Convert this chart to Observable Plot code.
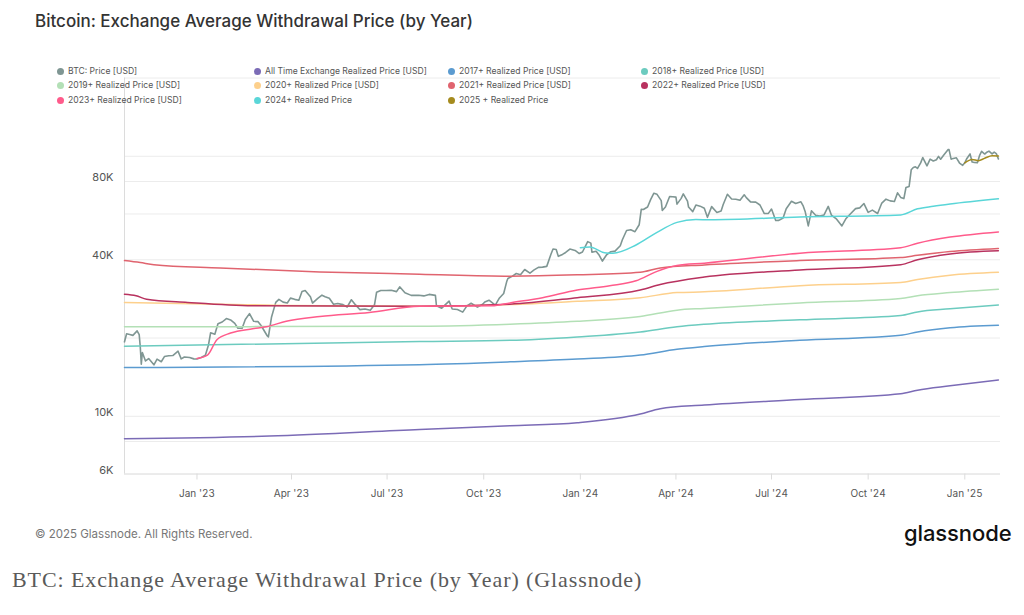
<!DOCTYPE html>
<html><head><meta charset="utf-8">
<script src="https://cdn.jsdelivr.net/npm/d3@7"></script>
<script src="https://cdn.jsdelivr.net/npm/@observablehq/plot@0.6"></script>
<style>
body{margin:0;background:#fff;font-family:Inter,sans-serif;}
#wrap{position:relative;width:1024px;height:615px;overflow:hidden;background:#fff;}
#chart{position:absolute;left:0;top:0;}
#title{position:absolute;left:35px;top:11px;font-size:17px;font-weight:500;color:#333;white-space:nowrap;}
.lg{position:absolute;font-size:8.6px;color:#555;white-space:nowrap;line-height:12px;}
.lg i{display:inline-block;width:7px;height:7px;border-radius:50%;margin-right:4px;vertical-align:-0.5px;}
#copy{position:absolute;left:35px;top:527px;font-size:11.5px;color:#777;white-space:nowrap;}
#logo{position:absolute;left:904px;top:520px;font-size:22px;font-weight:500;color:#111;letter-spacing:-0.1px;}
#caption{position:absolute;left:12px;top:567px;font-family:"Liberation Serif",serif;font-size:22px;letter-spacing:0.9px;color:#5a5a5a;white-space:nowrap;}
</style>
</head><body>
<div id="wrap">
  <div id="chart"></div>
  <div id="title">Bitcoin: Exchange Average Withdrawal Price (by Year)</div>
  <div id="legend"></div>
  <div id="copy">© 2025 Glassnode. All Rights Reserved.</div>
  <div id="logo">glassnode</div>
  <div id="caption">BTC: Exchange Average Withdrawal Price (by Year) (Glassnode)</div>
</div>
<script>
// ---- DATA ----
const seriesNames = ["BTC: Price [USD]","All Time Exchange Realized Price [USD]","2017+ Realized Price [USD]","2018+ Realized Price [USD]",
  "2019+ Realized Price [USD]","2020+ Realized Price [USD]","2021+ Realized Price [USD]","2022+ Realized Price [USD]",
  "2023+ Realized Price [USD]","2024+ Realized Price","2025 + Realized Price"];
const seriesColors = ["#7f9693","#7b6bb6","#5b9bd0","#6ccbbf","#b3e0b6","#fdd08c","#e0646f","#b8325f","#ff5b8b","#5ad6d8","#a58b1e"];

const xDomain = ["2022-10-24","2025-02-04"];
const yDomain = [6000, 200000];
const yGridTicks = [6000, 8000, 10000, 20000, 40000, 60000, 80000, 100000, 200000];
const yLabelTicks = [6000, 10000, 40000, 80000];

const btcPrice = [
["2022-10-24",19340],["2022-10-26",20770],["2022-10-29",20630],["2022-11-01",20480],["2022-11-05",21300],["2022-11-07",20600],
["2022-11-08",18540],["2022-11-09",15880],["2022-11-10",17590],["2022-11-13",16330],["2022-11-16",16670],["2022-11-21",15780],
["2022-11-24",16600],["2022-11-28",16210],["2022-12-01",16970],["2022-12-05",17100],["2022-12-09",17130],["2022-12-14",17800],
["2022-12-17",16630],["2022-12-20",16900],["2022-12-25",16840],["2022-12-29",16630],
["2023-01-01",16620],["2023-01-05",16830],["2023-01-09",17180],["2023-01-12",18860],["2023-01-14",20960],["2023-01-18",20680],
["2023-01-21",22700],["2023-01-25",23050],["2023-01-29",23770],["2023-02-02",23480],["2023-02-06",22760],["2023-02-09",21800],
["2023-02-13",21800],["2023-02-16",23550],["2023-02-20",24830],["2023-02-24",23190],["2023-02-28",23130],["2023-03-03",22350],
["2023-03-09",20360],["2023-03-10",20190],["2023-03-13",24110],["2023-03-17",27420],["2023-03-20",28170],["2023-03-24",27480],
["2023-03-28",27270],["2023-03-31",28480],["2023-04-04",28170],["2023-04-08",27950],["2023-04-11",30220],["2023-04-14",30480],
["2023-04-19",28820],["2023-04-21",27260],["2023-04-26",28420],["2023-04-30",29230],["2023-05-03",28840],["2023-05-07",28450],
["2023-05-11",26990],["2023-05-15",27170],["2023-05-20",26880],["2023-05-24",26330],["2023-05-28",28070],["2023-06-01",26820],
["2023-06-05",25730],["2023-06-10",25850],["2023-06-15",25580],["2023-06-19",26850],["2023-06-21",30000],["2023-06-25",30470],
["2023-06-30",30470],["2023-07-05",30510],["2023-07-10",30170],["2023-07-13",31470],["2023-07-18",29860],["2023-07-24",29180],
["2023-07-31",29230],["2023-08-05",29040],["2023-08-10",29430],["2023-08-16",29170],["2023-08-17",26620],["2023-08-22",26050],
["2023-08-29",27720],["2023-09-01",25870],["2023-09-06",25750],["2023-09-11",25160],["2023-09-15",26600],["2023-09-19",27210],
["2023-09-25",26300],["2023-09-30",26960],["2023-10-02",27500],["2023-10-06",27950],["2023-10-12",26760],["2023-10-16",28520],
["2023-10-20",29670],["2023-10-23",33090],["2023-10-24",33900],["2023-10-28",34530],["2023-11-01",35420],["2023-11-05",35040],
["2023-11-09",36690],["2023-11-14",35550],["2023-11-18",36560],["2023-11-22",37400],["2023-11-26",37480],["2023-11-30",37720],
["2023-12-04",41980],["2023-12-06",43990],["2023-12-09",43770],["2023-12-11",41240],["2023-12-15",41940],["2023-12-18",42660],
["2023-12-22",43990],["2023-12-27",43440],["2023-12-31",42270],
["2024-01-03",42840],["2024-01-08",46970],["2024-01-11",46340],["2024-01-12",42780],["2024-01-16",43140],["2024-01-19",41620],
["2024-01-22",39540],["2024-01-26",41820],["2024-01-30",42950],["2024-02-03",43180],["2024-02-08",45300],["2024-02-10",47770],
["2024-02-14",51840],["2024-02-18",52140],["2024-02-22",51300],["2024-02-26",54520],["2024-02-28",62500],["2024-03-01",62430],
["2024-03-05",63800],["2024-03-08",68300],["2024-03-11",72100],["2024-03-14",71400],["2024-03-18",67550],["2024-03-19",61910],
["2024-03-22",63780],["2024-03-26",69990],["2024-03-29",69870],["2024-04-01",69650],["2024-04-02",65460],["2024-04-06",68890],
["2024-04-08",71630],["2024-04-12",67190],["2024-04-13",63820],["2024-04-17",61270],["2024-04-20",64940],["2024-04-24",64300],
["2024-04-28",63110],["2024-05-01",58250],["2024-05-05",64040],["2024-05-10",60790],["2024-05-14",61580],["2024-05-16",65230],
["2024-05-20",71450],["2024-05-24",68540],["2024-05-28",68360],["2024-06-01",67760],["2024-06-05",71080],["2024-06-07",69350],
["2024-06-11",66750],["2024-06-16",66640],["2024-06-20",64960],["2024-06-24",60270],["2024-06-28",60320],["2024-07-01",62680],
["2024-07-05",56660],["2024-07-08",56700],["2024-07-12",57900],["2024-07-15",62860],["2024-07-20",67150],["2024-07-24",65800],
["2024-07-29",66800],["2024-07-31",64620],["2024-08-02",61350],["2024-08-05",54000],["2024-08-08",61700],["2024-08-12",59350],
["2024-08-16",58870],["2024-08-20",59500],["2024-08-24",64180],["2024-08-27",59440],["2024-09-01",57300],["2024-09-06",53960],
["2024-09-10",57650],["2024-09-14",60000],["2024-09-19",62900],["2024-09-23",63330],["2024-09-27",65800],["2024-10-01",60840],
["2024-10-05",62070],["2024-10-10",60270],["2024-10-14",66080],["2024-10-18",68400],["2024-10-22",67370],["2024-10-26",67030],
["2024-10-29",72340],["2024-11-01",69490],["2024-11-04",68770],["2024-11-06",75860],["2024-11-09",76530],["2024-11-11",88700],
["2024-11-13",90500],["2024-11-15",91100],["2024-11-17",89800],["2024-11-20",94300],["2024-11-22",98900],["2024-11-26",91900],
["2024-11-29",97500],["2024-12-02",95900],["2024-12-05",97000],["2024-12-07",99900],["2024-12-09",97400],["2024-12-12",101200],
["2024-12-16",106050],["2024-12-17",106140],["2024-12-19",97500],["2024-12-20",97750],["2024-12-24",98650],["2024-12-27",94200],
["2024-12-30",92300],
["2025-01-01",94400],["2025-01-03",98100],["2025-01-06",102100],["2025-01-08",95000],["2025-01-10",94700],["2025-01-13",94500],
["2025-01-15",100500],["2025-01-17",104500],["2025-01-20",102000],["2025-01-22",103700],["2025-01-24",104700],["2025-01-27",102100],
["2025-01-29",103700],["2025-01-31",102400],["2025-02-02",97700]
];

const allTimeRealized = [["2022-10-24",8200],["2023-03-11",8400],["2023-08-01",8900],["2023-10-26",9200],["2023-12-29",9450],
["2024-02-27",10200],["2024-03-17",10700],["2024-04-28",11050],["2024-07-28",11600],["2024-11-01",12200],["2024-11-17",12600],
["2024-12-18",13100],["2025-02-02",13800]];
const realized2017 = [["2022-10-24",15400],["2023-08-01",15800],["2023-10-26",16200],["2023-12-29",16600],["2024-02-27",17200],
["2024-04-02",18100],["2024-04-28",18550],["2024-07-28",19600],["2024-11-01",20500],["2024-11-17",21100],["2024-12-18",21900],["2025-02-02",22400]];
const realized2018 = [["2022-10-24",18600],["2023-08-01",19400],["2023-10-26",19600],["2023-12-29",20200],["2024-02-27",21100],
["2024-04-02",22100],["2024-04-28",22600],["2024-07-28",23500],["2024-11-01",24400],["2024-11-17",25200],["2024-12-18",25900],["2025-02-02",26800]];
const realized2019 = [["2022-10-24",22100],["2023-08-01",22200],["2023-10-26",22600],["2023-12-29",23200],["2024-02-27",24200],
["2024-04-02",25600],["2024-04-28",26000],["2024-07-28",27300],["2024-11-01",28400],["2024-11-17",29100],["2024-12-18",29900],["2025-02-02",30800]];
const realized2020 = [["2022-10-24",27400],["2023-01-23",27000],["2023-03-27",26700],["2023-08-01",26500],["2023-10-26",26900],
["2023-12-29",27700],["2024-02-27",28600],["2024-04-02",29900],["2024-04-28",30100],["2024-07-28",31800],["2024-11-01",32700],
["2024-11-17",33600],["2024-12-18",34900],["2025-02-02",35800]];
const realized2021 = [["2022-10-24",39700],["2022-11-08",39000],["2022-11-21",38300],["2023-01-23",37200],["2023-04-28",35900],
["2023-08-01",35200],["2023-10-26",34600],["2023-12-29",35000],["2024-02-27",35800],["2024-03-17",37200],["2024-04-28",38200],
["2024-07-28",39700],["2024-11-01",40800],["2024-11-17",41600],["2024-12-18",43000],["2025-02-02",44200]];
const realized2022 = [["2022-10-24",29500],["2022-11-04",29100],["2022-11-14",28200],["2022-12-23",27400],["2023-02-23",26600],
["2023-08-01",26500],["2023-10-26",27000],["2023-12-29",28600],["2024-02-27",30600],["2024-03-17",32100],["2024-04-28",34300],
["2024-07-28",36500],["2024-11-01",38300],["2024-11-17",40000],["2024-12-18",42100],["2025-02-02",43300]];
const realized2023 = [["2023-01-01",16700],["2023-01-11",17200],["2023-01-20",19700],["2023-02-02",20900],["2023-02-23",21700],
["2023-03-08",22100],["2023-03-27",23200],["2023-04-28",24200],["2023-06-14",25100],["2023-08-01",26500],["2023-10-09",26600],
["2023-10-26",27300],["2023-11-26",28600],["2023-12-29",30600],["2024-01-29",31800],["2024-02-23",33200],["2024-03-14",36100],
["2024-04-02",38000],["2024-04-28",38800],["2024-07-28",42400],["2024-11-01",44500],["2024-11-17",46300],["2024-12-18",48900],["2025-02-02",51200]];
const realized2024 = [["2024-01-01",44500],["2024-01-10",44800],["2024-01-24",42600],["2024-02-01",42400],["2024-02-23",45600],
["2024-03-14",51000],["2024-04-02",55700],["2024-04-20",57100],["2024-05-03",57000],["2024-07-28",58400],["2024-11-01",59500],
["2024-11-17",62800],["2024-12-02",64200],["2024-12-18",65500],["2025-02-02",68600]];
const realized2025 = [["2025-01-01",94300],["2025-01-08",97200],["2025-01-14",96200],["2025-01-20",98300],["2025-01-27",100500],["2025-02-02",100300]];

const seriesData = [btcPrice, allTimeRealized, realized2017, realized2018, realized2019, realized2020, realized2021, realized2022, realized2023, realized2024, realized2025];

// ---- LEGEND ----
const legend = document.getElementById("legend");
const colLeft = [57, 254, 448, 641];
const rowTop = [65, 79, 94];
seriesNames.forEach((name, i) => {
  const d = document.createElement("div");
  d.className = "lg";
  d.style.left = colLeft[i % 4] + "px";
  d.style.top = rowTop[Math.floor(i / 4)] + "px";
  d.innerHTML = `<i style="background:${seriesColors[i]}"></i>${name}`;
  legend.appendChild(d);
});

// ---- CHART ----
const parse = d3.utcParse("%Y-%m-%d");
const fmtMonth = d3.utcFormat("%b");
const fmtYear = d3.utcFormat("%y");
const x0 = parse(xDomain[0]);
const marks = [
  Plot.gridY(yGridTicks, {stroke: "#ececec", strokeOpacity: 1}),
  Plot.ruleY([yDomain[0]], {stroke: "#e2e2e2"}),
  Plot.ruleX([x0], {stroke: "#dcdcdc"}),
  Plot.axisX({ticks: d3.utcMonth.every(3), tickFormat: d => `${fmtMonth(d)} '${fmtYear(d)}`, tickSize: 6, tickPadding: 10,
    stroke: "#dcdcdc", fill: "#555", fontSize: 10}),
  Plot.text(yLabelTicks, {x: () => x0, y: d => d, text: d => (d / 1000) + "K", textAnchor: "end", dx: -11, dy: -4,
    fill: "#555", fontSize: 11})
];
seriesData.forEach((data, i) => {
  marks.push(Plot.line(data, {x: d => parse(d[0]), y: d => d[1], stroke: seriesColors[i],
    strokeWidth: i === 0 ? 1.6 : 1.5, curve: i === 0 ? "linear" : "monotone-x"}));
});

const chart = Plot.plot({
  width: 1024, height: 505,
  marginTop: 77.5, marginBottom: 31.5, marginLeft: 124, marginRight: 24,
  style: {fontFamily: "Inter, sans-serif", fontSize: "10px", background: "transparent"},
  x: {type: "utc", domain: xDomain.map(parse), axis: null},
  y: {type: "log", domain: yDomain, axis: null},
  marks
});
document.getElementById("chart").appendChild(chart);
</script>
</body></html>
